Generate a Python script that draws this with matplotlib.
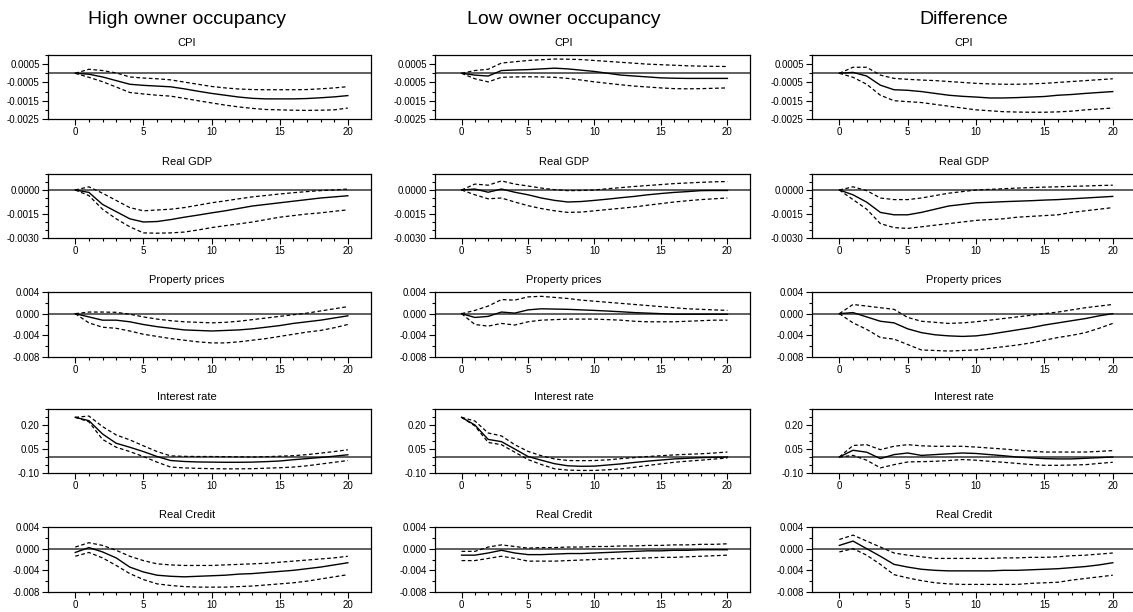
import matplotlib
matplotlib.use("Agg")
import matplotlib.pyplot as plt
from matplotlib.ticker import FixedLocator, MultipleLocator, FormatStrFormatter

plt.rcParams['font.family'] = ['Liberation Sans', 'DejaVu Sans']
plt.rcParams['axes.unicode_minus'] = False

horizon = list(range(21))

column_titles = ["High owner occupancy", "Low owner occupancy", "Difference"]
variables = ["CPI", "Real GDP", "Property prices", "Interest rate", "Real Credit"]

# ---- High owner occupancy ----
high_cpi = [0, -0.00005, -0.0002, -0.0004, -0.0006, -0.00066, -0.0007, -0.00074, -0.00085, -0.00098, -0.0011,
            -0.0012, -0.0013, -0.00137, -0.0014, -0.0014, -0.0014, -0.00138, -0.00134, -0.00129, -0.00122]
high_cpi_up = [0, 0.00022, 0.00015, 0.00002, -0.0002, -0.00026, -0.0003, -0.00036, -0.00048, -0.0006, -0.00072,
               -0.0008, -0.00086, -0.00089, -0.0009, -0.0009, -0.0009, -0.00089, -0.00085, -0.0008, -0.00073]
high_cpi_lo = [0, -0.00022, -0.00046, -0.00075, -0.00105, -0.00113, -0.0012, -0.00125, -0.00137, -0.0015, -0.00162,
               -0.00174, -0.00184, -0.00192, -0.00198, -0.002, -0.00202, -0.00203, -0.00202, -0.002, -0.0019]

high_gdp = [0, -0.00015, -0.0009, -0.00135, -0.0018, -0.002, -0.00197, -0.00185, -0.0017, -0.00157, -0.00143,
            -0.0013, -0.00115, -0.001, -0.0009, -0.0008, -0.0007, -0.0006, -0.0005, -0.00043, -0.00036]
high_gdp_up = [0, 0.0002, -0.0002, -0.00065, -0.0011, -0.0013, -0.00125, -0.0012, -0.0011, -0.00095, -0.0008,
               -0.00068, -0.00055, -0.00043, -0.00034, -0.00025, -0.00017, -0.0001, -0.00004, 0.0, 0.00006]
high_gdp_lo = [0, -0.00035, -0.0012, -0.0018, -0.0023, -0.00268, -0.0027, -0.00268, -0.00263, -0.0025, -0.00235,
               -0.00223, -0.00212, -0.002, -0.00185, -0.0017, -0.0016, -0.0015, -0.00143, -0.00133, -0.00124]

high_prop = [0, -0.0006, -0.0012, -0.0012, -0.0015, -0.002, -0.0024, -0.0027, -0.003, -0.0031, -0.0032,
             -0.0031, -0.003, -0.0028, -0.0025, -0.0022, -0.0018, -0.0015, -0.0012, -0.0008, -0.0004]
high_prop_up = [0, 0.0003, 0.0003, 0.00025, -0.0001, -0.0006, -0.001, -0.0013, -0.0015, -0.0016, -0.0017,
                -0.0016, -0.0014, -0.0011, -0.0008, -0.0005, -0.0002, 0.0001, 0.0005, 0.0009, 0.0013]
high_prop_lo = [0, -0.0017, -0.0025, -0.0027, -0.0032, -0.0038, -0.0042, -0.0046, -0.0049, -0.0052, -0.0054,
                -0.0054, -0.0052, -0.0049, -0.0046, -0.0042, -0.0038, -0.0034, -0.0031, -0.0026, -0.002]

high_int = [0.248, 0.227, 0.144, 0.086, 0.061, 0.034, 0.003, -0.022, -0.028, -0.031, -0.032,
            -0.033, -0.033, -0.032, -0.029, -0.025, -0.017, -0.01, -0.003, 0.005, 0.014]
high_int_up = [0.248, 0.256, 0.19, 0.138, 0.107, 0.07, 0.034, 0.007, 0.004, 0.003, 0.003,
               0.002, 0.001, 0.0, 0.002, 0.005, 0.008, 0.015, 0.024, 0.034, 0.045]
high_int_lo = [0.248, 0.22, 0.11, 0.061, 0.034, 0.003, -0.032, -0.063, -0.068, -0.071, -0.073,
               -0.074, -0.074, -0.073, -0.07, -0.067, -0.063, -0.055, -0.044, -0.033, -0.022]

high_credit = [-0.0007, 0.0002, -0.0006, -0.0017, -0.0034, -0.0043, -0.0049, -0.0051, -0.0052, -0.0051, -0.005,
               -0.0049, -0.0047, -0.0046, -0.0044, -0.0042, -0.004, -0.0037, -0.0034, -0.003, -0.0026]
high_credit_up = [0.0003, 0.0011, 0.0006, -0.0003, -0.0014, -0.0022, -0.0028, -0.003, -0.0031, -0.0031, -0.0031,
                  -0.003, -0.0029, -0.0028, -0.0027, -0.0025, -0.0023, -0.0021, -0.0019, -0.0017, -0.0014]
high_credit_lo = [-0.0014, -0.0007, -0.0017, -0.0031, -0.0046, -0.0057, -0.0065, -0.0068, -0.007, -0.0071, -0.0071,
                  -0.0071, -0.007, -0.0069, -0.0067, -0.0065, -0.0063, -0.006, -0.0056, -0.0052, -0.0048]

# ---- Low owner occupancy ----
low_cpi = [0, -0.0001, -0.00015, 0.00015, 0.00018, 0.0002, 0.00024, 0.00028, 0.00024, 0.00017, 0.0001,
           0.0, -0.0001, -0.00015, -0.0002, -0.00025, -0.00027, -0.00028, -0.00028, -0.00028, -0.00028]
low_cpi_up = [0, 0.00015, 0.00022, 0.00056, 0.00063, 0.0007, 0.00074, 0.00078, 0.00077, 0.00075, 0.0007,
              0.00065, 0.0006, 0.00055, 0.0005, 0.00047, 0.00044, 0.00041, 0.00039, 0.00038, 0.00037]
low_cpi_lo = [0, -0.0003, -0.00047, -0.00022, -0.0002, -0.00019, -0.0002, -0.00022, -0.00028, -0.00037, -0.00047,
              -0.00055, -0.00063, -0.0007, -0.00075, -0.0008, -0.00084, -0.00085, -0.00084, -0.00082, -0.0008]

low_gdp = [0, 0.00006, -0.00014, 0.00006, -0.00014, -0.0003, -0.0005, -0.00065, -0.00075, -0.00072, -0.00065,
           -0.00057, -0.00048, -0.0004, -0.0003, -0.00022, -0.00015, -0.0001, -0.00004, -0.00003, -0.00003]
low_gdp_up = [0, 0.00037, 0.0003, 0.00057, 0.00037, 0.00025, 0.00012, 0.00002, -0.00004, -0.00003, 0.0,
              0.00008, 0.00015, 0.00022, 0.00028, 0.00034, 0.0004, 0.00044, 0.00048, 0.00051, 0.00053]
low_gdp_lo = [0, -0.0003, -0.00055, -0.0005, -0.00075, -0.00098, -0.00116, -0.0013, -0.0014, -0.00138, -0.0013,
              -0.00122, -0.00114, -0.00106, -0.00095, -0.00085, -0.00075, -0.00067, -0.0006, -0.00055, -0.0005]

low_prop = [0, -0.0007, -0.0005, 0.0003, 0.0001, 0.0007, 0.0009, 0.00085, 0.0008, 0.0007, 0.0006,
            0.00048, 0.00035, 0.0002, 0.0001, 0.0, -0.0001, -0.0001, -0.0001, -0.0001, -0.0001]
low_prop_up = [0, 0.0006, 0.0014, 0.0026, 0.0025, 0.0031, 0.0032, 0.003, 0.0028, 0.0025, 0.0023,
               0.0021, 0.0019, 0.0017, 0.0015, 0.0013, 0.0011, 0.0009, 0.0008, 0.0007, 0.0006]
low_prop_lo = [0, -0.002, -0.0023, -0.0018, -0.0021, -0.0015, -0.0012, -0.0011, -0.001, -0.001, -0.001,
               -0.0011, -0.0012, -0.0014, -0.0015, -0.0015, -0.0015, -0.0014, -0.0013, -0.0012, -0.0012]

low_int = [0.248, 0.2, 0.11, 0.096, 0.05, 0.003, -0.02, -0.042, -0.055, -0.058, -0.057,
           -0.05, -0.043, -0.034, -0.026, -0.019, -0.012, -0.008, -0.004, -0.002, 0.0]
low_int_up = [0.248, 0.225, 0.15, 0.132, 0.077, 0.035, 0.008, -0.012, -0.022, -0.023, -0.022,
              -0.018, -0.01, -0.004, 0.003, 0.008, 0.013, 0.017, 0.02, 0.025, 0.031]
low_int_lo = [0.248, 0.194, 0.091, 0.077, 0.03, -0.016, -0.047, -0.074, -0.082, -0.084, -0.084,
              -0.08, -0.074, -0.064, -0.053, -0.043, -0.033, -0.026, -0.02, -0.013, -0.006]

low_credit = [-0.0012, -0.0012, -0.0008, -0.0003, -0.0008, -0.0011, -0.0011, -0.001, -0.0009, -0.0009, -0.0008,
              -0.0007, -0.0006, -0.0005, -0.0004, -0.0004, -0.0003, -0.0003, -0.0002, -0.0002, -0.0002]
low_credit_up = [-0.0005, -0.0005, 0.0003, 0.0007, 0.0004, 0.0001, 0.0002, 0.0002, 0.0003, 0.0003, 0.0004,
                 0.0004, 0.0005, 0.0005, 0.0006, 0.0006, 0.0007, 0.0007, 0.0008, 0.0008, 0.0009]
low_credit_lo = [-0.0022, -0.0022, -0.0018, -0.0014, -0.0018, -0.0023, -0.0023, -0.0023, -0.0022, -0.0021, -0.002,
                 -0.0019, -0.0018, -0.0018, -0.0017, -0.0016, -0.0016, -0.0015, -0.0014, -0.0013, -0.0012]

# ---- Difference ----
diff_cpi = [0, 0.00005, -0.00015, -0.00065, -0.0009, -0.00093, -0.001, -0.0011, -0.0012, -0.00126, -0.0013,
            -0.00135, -0.00135, -0.00133, -0.0013, -0.00127, -0.0012, -0.00116, -0.0011, -0.00105, -0.001]
diff_cpi_up = [0, 0.00033, 0.00033, -0.0001, -0.00028, -0.00033, -0.00037, -0.0004, -0.00045, -0.0005, -0.00055,
               -0.00058, -0.0006, -0.0006, -0.00058, -0.00055, -0.0005, -0.00045, -0.0004, -0.00035, -0.0003]
diff_cpi_lo = [0, -0.00022, -0.0006, -0.0012, -0.0015, -0.00155, -0.0016, -0.0017, -0.0018, -0.0019, -0.002,
               -0.00205, -0.0021, -0.00212, -0.00213, -0.00213, -0.00211, -0.00207, -0.002, -0.00195, -0.0019]

diff_gdp = [0, -0.0003, -0.00076, -0.0014, -0.00155, -0.00155, -0.0014, -0.0012, -0.001, -0.0009, -0.0008,
            -0.00077, -0.00073, -0.0007, -0.00067, -0.00063, -0.0006, -0.00055, -0.0005, -0.00045, -0.0004]
diff_gdp_up = [0, 0.0002, -0.00004, -0.0005, -0.0006, -0.0006, -0.0005, -0.00035, -0.0002, -0.0001, 0.0,
               0.00004, 0.00008, 0.00012, 0.00015, 0.00018, 0.0002, 0.00023, 0.00025, 0.00028, 0.0003]
diff_gdp_lo = [0, -0.0006, -0.0012, -0.0021, -0.00235, -0.0024, -0.0023, -0.0022, -0.0021, -0.002, -0.0019,
               -0.00185, -0.0018, -0.0017, -0.00165, -0.0016, -0.00155, -0.0014, -0.0013, -0.0012, -0.0011]

diff_prop = [0, 0.0002, -0.0006, -0.0014, -0.0017, -0.0028, -0.0035, -0.0039, -0.0041, -0.0042, -0.0041,
             -0.0038, -0.0034, -0.003, -0.0026, -0.0021, -0.0017, -0.0013, -0.0009, -0.0004, 0.0]
diff_prop_up = [0, 0.0017, 0.0014, 0.0011, 0.0008, -0.0007, -0.0014, -0.0016, -0.0018, -0.0017, -0.0015,
                -0.0012, -0.0009, -0.0006, -0.0003, 0.0, 0.0003, 0.0007, 0.0011, 0.0014, 0.0017]
diff_prop_lo = [0, -0.0017, -0.0029, -0.0044, -0.0047, -0.0057, -0.0067, -0.0068, -0.0069, -0.0068, -0.0067,
                -0.0064, -0.0061, -0.0058, -0.0054, -0.0049, -0.0044, -0.004, -0.0035, -0.0027, -0.0018]

diff_int = [0, 0.042, 0.03, -0.01, 0.015, 0.025, 0.01, 0.015, 0.02, 0.025, 0.022,
            0.015, 0.008, 0.0, -0.005, -0.01, -0.012, -0.012, -0.008, -0.004, 0.0]
diff_int_up = [0, 0.072, 0.077, 0.046, 0.067, 0.077, 0.07, 0.067, 0.067, 0.067, 0.062,
               0.056, 0.05, 0.043, 0.037, 0.031, 0.031, 0.031, 0.031, 0.035, 0.04]
diff_int_lo = [0, 0.01, -0.02, -0.068, -0.048, -0.031, -0.029, -0.027, -0.022, -0.016, -0.02,
               -0.027, -0.033, -0.04, -0.047, -0.052, -0.052, -0.05, -0.048, -0.04, -0.033]

diff_credit = [0.0006, 0.0014, 0.0, -0.0014, -0.0029, -0.0034, -0.0038, -0.004, -0.0041, -0.0041, -0.0041,
               -0.0041, -0.004, -0.004, -0.0039, -0.0038, -0.0037, -0.0035, -0.0033, -0.003, -0.0026]
diff_credit_up = [0.0017, 0.0025, 0.0014, 0.0003, -0.0008, -0.0012, -0.0015, -0.0018, -0.0018, -0.0018, -0.0018,
                  -0.0018, -0.0017, -0.0017, -0.0016, -0.0016, -0.0015, -0.0013, -0.0012, -0.001, -0.0008]
diff_credit_lo = [-0.0006, 0.0, -0.0012, -0.0029, -0.0048, -0.0054, -0.0059, -0.0063, -0.0065, -0.0066, -0.0066,
                  -0.0066, -0.0066, -0.0066, -0.0064, -0.0063, -0.0062, -0.0058, -0.0055, -0.0052, -0.0049]

# (mid, upper, lower) per column, per variable
panels = [
    [(high_cpi, high_cpi_up, high_cpi_lo), (high_gdp, high_gdp_up, high_gdp_lo),
     (high_prop, high_prop_up, high_prop_lo), (high_int, high_int_up, high_int_lo),
     (high_credit, high_credit_up, high_credit_lo)],
    [(low_cpi, low_cpi_up, low_cpi_lo), (low_gdp, low_gdp_up, low_gdp_lo),
     (low_prop, low_prop_up, low_prop_lo), (low_int, low_int_up, low_int_lo),
     (low_credit, low_credit_up, low_credit_lo)],
    [(diff_cpi, diff_cpi_up, diff_cpi_lo), (diff_gdp, diff_gdp_up, diff_gdp_lo),
     (diff_prop, diff_prop_up, diff_prop_lo), (diff_int, diff_int_up, diff_int_lo),
     (diff_credit, diff_credit_up, diff_credit_lo)],
]

# y axis per row: limits, labelled ticks, minor step, format
y_axes = [
    ((-0.0025, 0.001), [0.0005, -0.0005, -0.0015, -0.0025], 0.0005, "%.4f"),
    ((-0.003, 0.001), [0.0, -0.0015, -0.003], 0.0005, "%.4f"),
    ((-0.008, 0.004), [0.004, 0.0, -0.004, -0.008], 0.002, "%.3f"),
    ((-0.10, 0.30), [0.20, 0.05, -0.10], 0.05, "%.2f"),
    ((-0.008, 0.004), [0.004, 0.0, -0.004, -0.008], 0.002, "%.3f"),
]

W, H = 1133, 612
col_px = [(48, 371), (435, 750), (812, 1136)]
row_px = [(55, 119), (174, 238), (292, 357), (409, 473), (527, 592)]
header_x = [187, 564, 964]

fig = plt.figure(figsize=(W / 100, H / 100), dpi=100)

for c, (x0, x1) in enumerate(col_px):
    fig.text(header_x[c] / W, 1 - 19 / H, column_titles[c], ha="center", va="center", fontsize=14)
    for r, (y0, y1) in enumerate(row_px):
        ax = fig.add_axes([x0 / W, 1 - y1 / H, (x1 - x0) / W, (y1 - y0) / H])
        mid, up, lo = panels[c][r]
        ax.axhline(0, color="#444444", lw=1.2, zorder=1)
        ax.plot(horizon, mid, color="black", lw=1.0)
        ax.plot(horizon, up, color="black", lw=0.9, dashes=(3, 2))
        ax.plot(horizon, lo, color="black", lw=0.9, dashes=(3, 2))

        ylim, yt, ystep, fmt = y_axes[r]
        ax.set_ylim(*ylim)
        ax.set_xlim(-2, 21.7)
        ax.yaxis.set_major_locator(FixedLocator(yt))
        ax.yaxis.set_major_formatter(FormatStrFormatter(fmt))
        ax.yaxis.set_minor_locator(MultipleLocator(ystep))
        ax.xaxis.set_major_locator(FixedLocator([0, 5, 10, 15, 20]))
        ax.xaxis.set_minor_locator(FixedLocator(horizon))
        ax.tick_params(which="both", direction="out", top=False, right=False, labelsize=7, width=0.8)
        ax.tick_params(which="major", length=4, pad=2)
        ax.tick_params(which="minor", length=2.5)
        for s in ax.spines.values():
            s.set_linewidth(0.9)

        fig.text(header_x[c] / W, 1 - (y0 - 12) / H, variables[r], ha="center", va="center", fontsize=8)

fig.savefig("out.png", dpi=100)
